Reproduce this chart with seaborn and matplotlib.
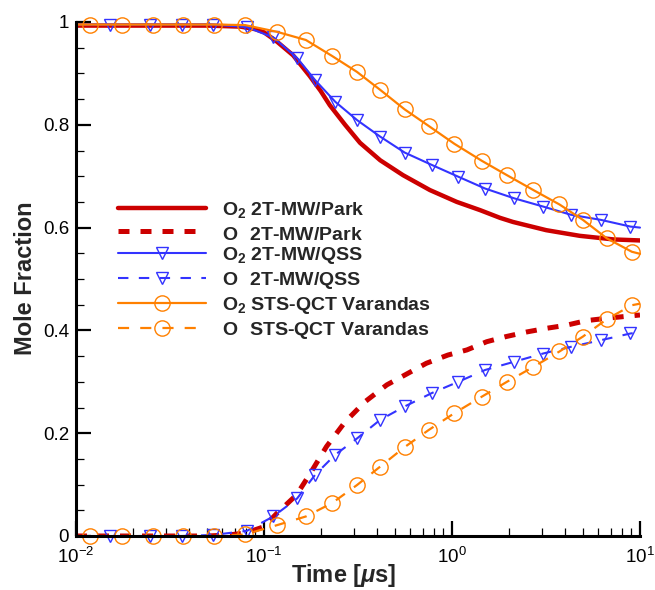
import matplotlib
matplotlib.use('Agg')
import matplotlib.pyplot as plt
import seaborn as sns
from matplotlib.ticker import MultipleLocator, FixedLocator, FixedFormatter, LogLocator

# ---------------- data ----------------
park_o2_t = [0.01, 0.03, 0.05, 0.075, 0.09, 0.1, 0.117, 0.143, 0.175, 0.2, 0.224, 0.27, 0.324,
             0.415, 0.549, 0.763, 1.06, 1.41, 1.80, 2.11, 3.17, 4.78, 7.23, 10.0]
park_o2 = [0.993, 0.993, 0.993, 0.991, 0.986, 0.98, 0.962, 0.935, 0.895, 0.866, 0.838, 0.80, 0.765,
           0.731, 0.702, 0.673, 0.650, 0.634, 0.619, 0.611, 0.595, 0.584, 0.577, 0.575]

park_o_t = [0.01, 0.05, 0.065, 0.08, 0.1, 0.117, 0.149, 0.175, 0.215, 0.27, 0.344, 0.45,
            0.56, 0.73, 0.95, 1.2, 1.53, 1.94, 2.5, 3.17, 4.05, 5.18, 6.8, 10.0]
park_o = [0.0, 0.0, 0.002, 0.006, 0.018, 0.044, 0.08, 0.12, 0.174, 0.222, 0.261, 0.294,
          0.313, 0.336, 0.352, 0.362, 0.378, 0.388, 0.397, 0.404, 0.41, 0.419, 0.424, 0.43]

qss_t = [0.01, 0.0152, 0.0248, 0.0366, 0.0535, 0.0811, 0.112, 0.150, 0.187, 0.239, 0.313,
         0.415, 0.56, 0.78, 1.08, 1.50, 2.14, 3.05, 4.29, 6.2, 8.9, 10.0]
qss_o2 = [0.995, 0.995, 0.995, 0.995, 0.995, 0.99, 0.97, 0.93, 0.887, 0.845, 0.809,
          0.777, 0.746, 0.722, 0.699, 0.676, 0.657, 0.641, 0.625, 0.615, 0.602, 0.600]
qss_o = [0.0, 0.0, 0.0, 0.0, 0.002, 0.01, 0.038, 0.073, 0.119, 0.158, 0.19,
         0.226, 0.252, 0.278, 0.30, 0.323, 0.339, 0.355, 0.368, 0.381, 0.394, 0.396]

sts_t = [0.01, 0.0119, 0.0175, 0.0257, 0.0371, 0.0542, 0.0793, 0.117, 0.167, 0.230, 0.312,
         0.415, 0.56, 0.75, 1.03, 1.44, 1.96, 2.71, 3.73, 4.97, 6.67, 9.05, 10.0]
sts_o2 = [0.995, 0.995, 0.995, 0.995, 0.995, 0.995, 0.994, 0.981, 0.965, 0.934, 0.903,
          0.868, 0.830, 0.798, 0.763, 0.730, 0.702, 0.673, 0.645, 0.615, 0.579, 0.553, 0.549]
sts_o = [0.0, 0.0, 0.0, 0.0, 0.0, 0.0, 0.003, 0.021, 0.038, 0.064, 0.099,
         0.135, 0.173, 0.206, 0.239, 0.271, 0.30, 0.329, 0.359, 0.388, 0.422, 0.449, 0.452]

labels = [r"O$_2$ 2T-MW/Park", r"O$_{\enspace}$ 2T-MW/Park",
          r"O$_2$ 2T-MW/QSS", r"O$_{\enspace}$ 2T-MW/QSS",
          r"O$_2$ STS-QCT Varandas", r"O$_{\enspace}$ STS-QCT Varandas"]
y_ticks = [0, 0.2, 0.4, 0.6, 0.8, 1.0]
y_ticklabels = ["0", "0.2", "0.4", "0.6", "0.8", "1"]
x_label = r"Time [$\mathit{\mu}$s]"
y_label = "Mole Fraction"

# ---------------- style ----------------
sns.set_theme(style='ticks')
plt.rcParams['font.family'] = ['Liberation Sans', 'DejaVu Sans']
plt.rcParams['mathtext.fontset'] = 'custom'
plt.rcParams['mathtext.rm'] = 'Liberation Sans'
plt.rcParams['mathtext.it'] = 'Liberation Sans:italic:bold'
plt.rcParams['mathtext.bf'] = 'Liberation Sans:bold'
plt.rcParams['mathtext.default'] = 'regular'

RED = '#cc0000'
BLUE = '#3333ff'
ORANGE = '#ff8000'

fig = plt.figure(figsize=(6.55, 5.9), dpi=100)
ax = fig.add_axes([76 / 655, 1 - 536 / 590, 564 / 655, 514 / 590])

inner = slice(1, -1)

sns.lineplot(x=park_o2_t, y=park_o2, ax=ax, color=RED, lw=3.2, linestyle='-',
             label=labels[0], legend=False)
sns.lineplot(x=park_o_t, y=park_o, ax=ax, color=RED, lw=3.6, linestyle=(0, (2.2, 2.2)),
             label=labels[1], legend=False)
sns.lineplot(x=qss_t, y=qss_o2, ax=ax, color=BLUE, lw=1.5, linestyle='-',
             marker='v', markevery=inner, ms=9, mfc='none', mec=BLUE, mew=1.0,
             clip_on=False, label=labels[2], legend=False)
sns.lineplot(x=qss_t, y=qss_o, ax=ax, color=BLUE, lw=1.5, linestyle=(0, (5, 5)),
             marker='v', markevery=inner, ms=9, mfc='none', mec=BLUE, mew=1.0,
             clip_on=False, label=labels[3], legend=False)
sns.lineplot(x=sts_t, y=sts_o2, ax=ax, color=ORANGE, lw=1.6, linestyle='-',
             marker='o', markevery=inner, ms=11, mfc='none', mec=ORANGE, mew=1.0,
             clip_on=False, label=labels[4], legend=False)
sns.lineplot(x=sts_t, y=sts_o, ax=ax, color=ORANGE, lw=1.6, linestyle=(0, (5, 5)),
             marker='o', markevery=inner, ms=11, mfc='none', mec=ORANGE, mew=1.0,
             clip_on=False, label=labels[5], legend=False)

ax.set_xscale('log')
ax.set_xlim(0.01, 10)
ax.set_ylim(0, 1)

ax.xaxis.set_major_locator(LogLocator(base=10, numticks=10))
ax.xaxis.set_minor_locator(LogLocator(base=10, subs=range(2, 10), numticks=10))
ax.yaxis.set_major_locator(FixedLocator(y_ticks))
ax.yaxis.set_major_formatter(FixedFormatter(y_ticklabels))
ax.yaxis.set_minor_locator(MultipleLocator(0.05))

ax.tick_params(which='major', direction='in', length=11, width=1.6, labelsize=13.5,
               color='black', labelcolor='black', top=False, right=False)
ax.tick_params(axis='x', which='major', pad=8)
ax.tick_params(axis='y', which='major', pad=5)
ax.tick_params(which='minor', direction='in', length=6, width=0.9, color='black',
               top=False, right=False)

for side in ['top', 'right']:
    ax.spines[side].set_visible(False)
for side in ['left', 'bottom']:
    ax.spines[side].set_linewidth(2.2)
    ax.spines[side].set_color('black')

ax.set_xlabel(x_label, fontsize=17, fontweight='bold')
ax.set_ylabel(y_label, fontsize=17, fontweight='bold')
ax.xaxis.set_label_coords(0.475, -0.05)
ax.yaxis.set_label_coords(-0.07, 0.502)

handles = ax.get_lines()[:6]
ax.legend(handles, labels, loc='upper left', bbox_to_anchor=(0.0745, 0.654),
          frameon=False, prop={'weight': 'bold', 'size': 14}, handlelength=4.5,
          handletextpad=0.85, labelspacing=0.2, borderaxespad=0, borderpad=0)

fig.savefig('out.png', dpi=100)
